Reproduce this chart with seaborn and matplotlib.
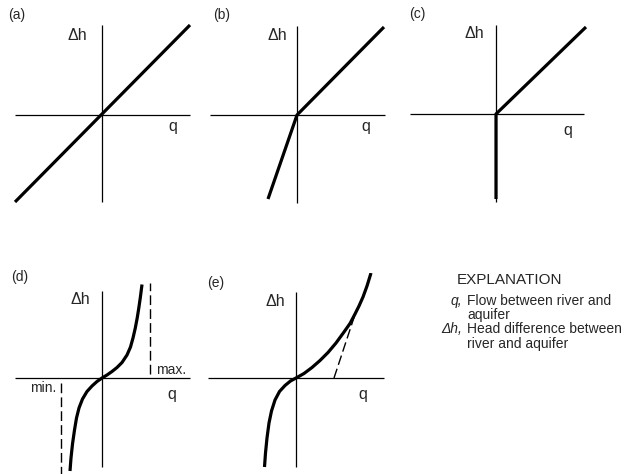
import matplotlib
matplotlib.use("Agg")
import matplotlib.pyplot as plt
import seaborn as sns

# ---------------- data (panel units) ----------------
panels = ["(a)", "(b)", "(c)", "(d)", "(e)"]

a_q = [-87, 88]
a_dh = [-87, 90]

b_q = [-29, 0, 87]
b_dh = [-84, 0, 88]

c_q = [0, 0, 90]
c_dh = [-85, 0, 87]

d_q = [-32.0, -31.0, -29.5, -27.5, -25.5, -23.0, -19.5, -15.0, -10.0, -5.0, 0.0,
       5.0, 10.0, 15.0, 20.0, 25.0, 28.5, 31.0, 33.3, 35.2, 36.8, 38.4, 40.0]
d_dh = [-93.0, -80.0, -66.0, -52.0, -40.0, -30.0, -21.0, -13.5, -8.0, -3.5, 0.0,
        3.0, 6.5, 10.5, 15.5, 23.0, 31.0, 40.0, 50.0, 60.0, 70.0, 81.0, 93.5]
d_max_q = 48
d_max_dh = [4, 95]
d_min_q = -41
d_min_dh = [-5, -100]

e_q = [-31.5, -30.5, -29.0, -27.0, -24.5, -21.0, -16.5, -11.0, -5.5, 0.0,
       8.0, 16.0, 24.0, 32.0, 40.0, 48.0, 54.0, 59.0, 63.0, 67.0, 71.0, 75.0]
e_dh = [-89.0, -75.0, -60.0, -45.0, -33.0, -22.0, -13.5, -7.5, -3.0, 0.0,
        4.5, 10.5, 17.5, 25.5, 35.0, 46.0, 54.5, 64.0, 72.0, 81.0, 92.0, 105.0]
e_tan_q = [38, 59.5]
e_tan_dh = [0, 65]

explanation_title = "EXPLANATION"
explanation_items = [("q,", ["Flow between river and", "aquifer"]),
                     ("Δh,", ["Head difference between", "river and aquifer"])]

# ---------------- layout ----------------
W, H = 637, 474
sns.set_theme(style="white")
plt.rcParams["font.family"] = ["Liberation Sans", "DejaVu Sans"]
fig = plt.figure(figsize=(W / 100, H / 100), dpi=100)
fig.patch.set_facecolor("white")

# origin pixel of each panel, axis extents (h: left,right ; v: bottom,top)
origins = [(102, 115), (297, 115), (496, 114), (102, 378), (296, 378)]
h_ext = [(-87, 88), (-87, 88), (-86, 88), (-87, 88), (-88, 88)]
v_ext = [(-87, 90), (-88, 89), (-88, 89), (-89, 87), (-89, 86)]
lab_pos = [(-85, 100), (-75, 100), (-78.5, 100), (-82, 101), (-80, 95)]
dh_pos = [(-24.5, 80), (-20, 80), (-22, 81), (-22, 78), (-21, 76)]
q_pos = [(71, -12), (68.5, -12), (72, -16), (70, -17), (67, -17)]

XL, XR, YB, YT = -100, 100, -105, 105
curves = [(a_q, a_dh), (b_q, b_dh), (c_q, c_dh), (d_q, d_dh), (e_q, e_dh)]

FS = 11.5
for i, (ox, oy) in enumerate(origins):
    left = (ox + XL) / W
    bottom = (H - (oy - YB)) / H
    ax = fig.add_axes([left, bottom, (XR - XL) / W, (YT - YB) / H])
    ax.set_xlim(XL, XR)
    ax.set_ylim(YB, YT)
    ax.axis("off")
    ax.patch.set_alpha(0)
    # coordinate axes
    ax.hlines(0, h_ext[i][0], h_ext[i][1], color="black", lw=0.9)
    ax.vlines(0, v_ext[i][0], v_ext[i][1], color="black", lw=0.9)
    # relation curve
    q, dh = curves[i]
    sns.lineplot(x=q, y=dh, ax=ax, color="black", lw=2.3, estimator=None,
                 sort=False, legend=False, solid_capstyle="butt",
                 solid_joinstyle="round")
    # labels
    ax.text(*lab_pos[i], panels[i], fontsize=10, ha="center", va="center")
    ax.text(*dh_pos[i], "Δh", fontsize=FS, ha="center", va="center")
    ax.text(*q_pos[i], "q", fontsize=FS, ha="center", va="center")
    if i == 3:
        ax.vlines(d_max_q, d_max_dh[0], d_max_dh[1], color="black", lw=1.0,
                  linestyles=(0, (7, 3)))
        ax.vlines(d_min_q, d_min_dh[0], d_min_dh[1], color="black", lw=1.0,
                  linestyles=(0, (7, 3)))
        ax.text(d_max_q + 6, 8, "max.", fontsize=10, ha="left", va="center")
        ax.text(d_min_q - 5, -10, "min.", fontsize=10, ha="right", va="center")
    if i == 4:
        sns.lineplot(x=e_tan_q, y=e_tan_dh, ax=ax, color="black", lw=1.0,
                     estimator=None, sort=False, legend=False,
                     linestyle=(0, (7, 3)))

# explanation block
def px(x, y):
    return x / W, 1 - y / H

fig.text(*px(510, 280), explanation_title, fontsize=11, ha="center", va="center")
line_y = 301
for key, lines in explanation_items:
    fig.text(*px(462, line_y), key, fontsize=10, style="italic",
             ha="right", va="center")
    for ln in lines:
        fig.text(*px(467, line_y), ln, fontsize=10, ha="left", va="center")
        line_y += 14.2

fig.savefig("out.png", dpi=100, facecolor="white")
